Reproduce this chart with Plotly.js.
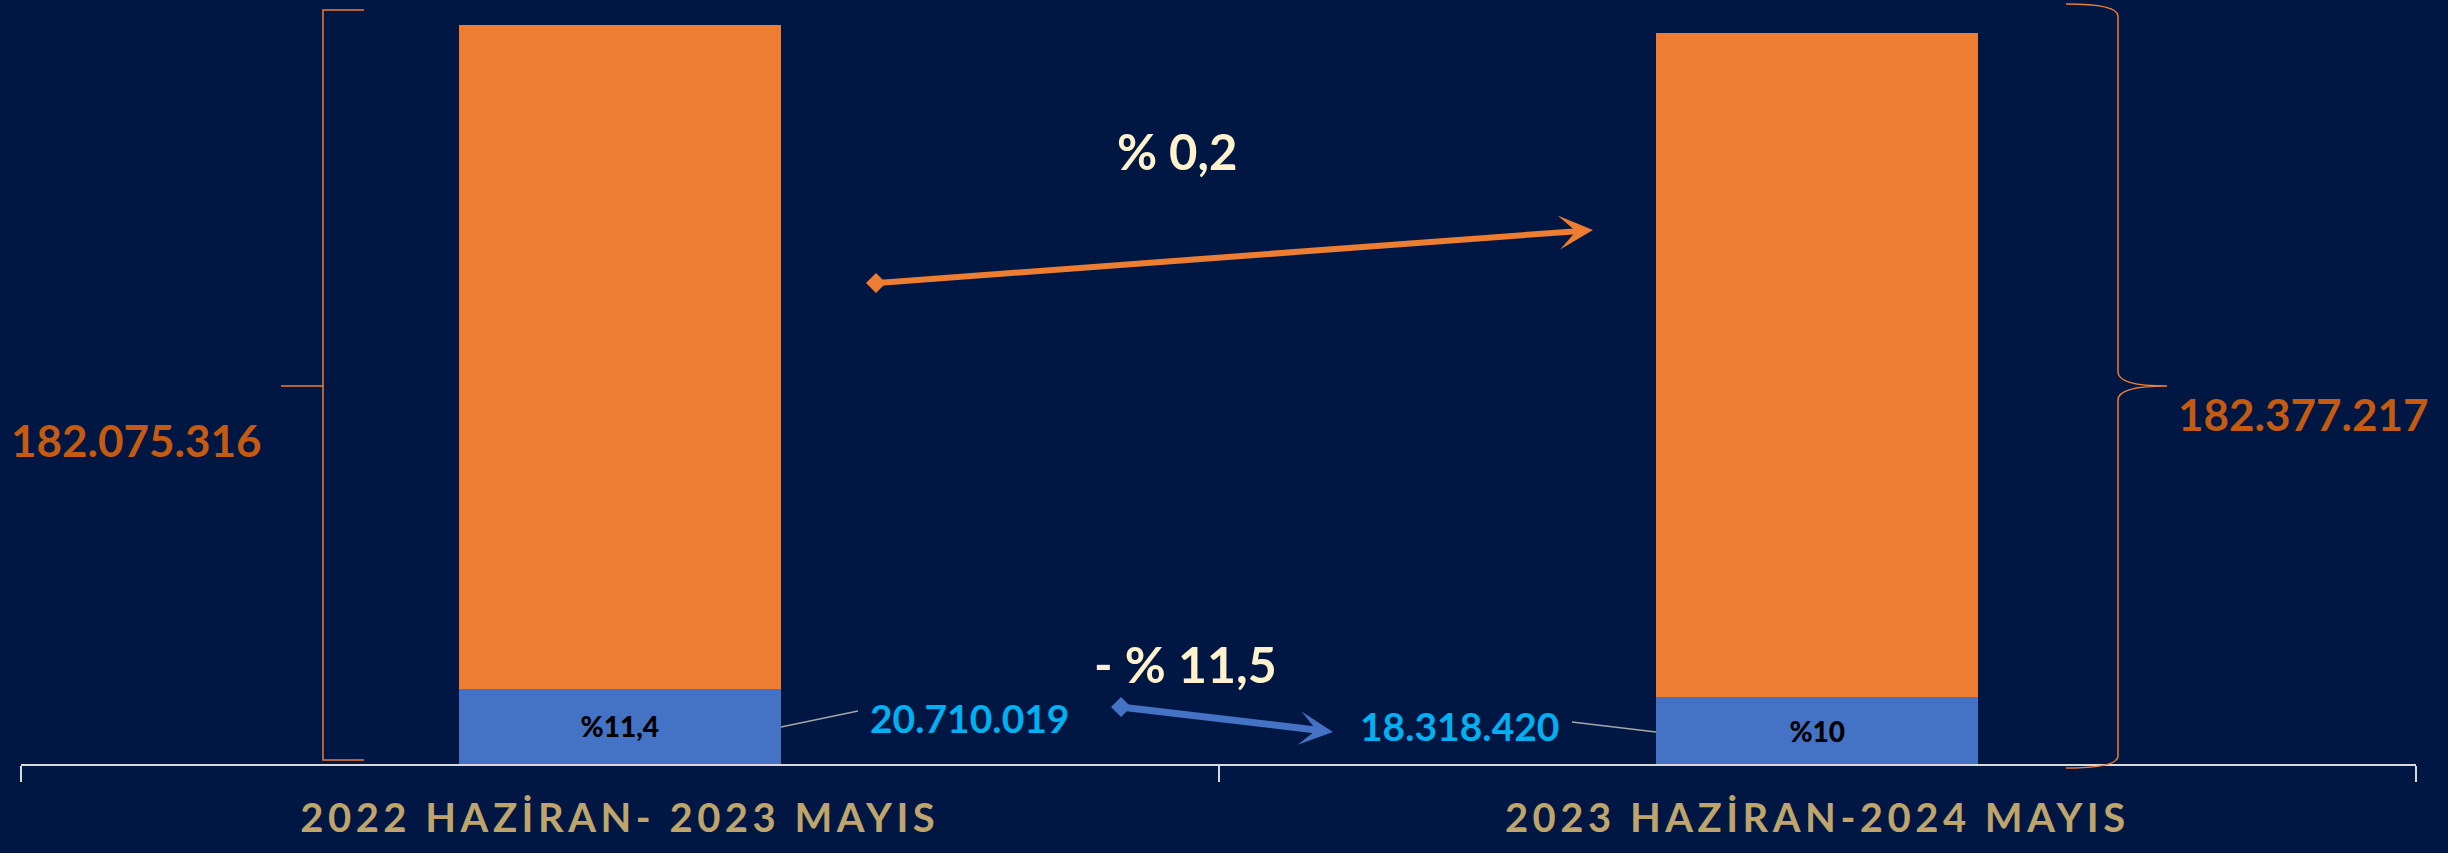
<!DOCTYPE html>
<html>
<head>
<meta charset="utf-8">
<script src="https://cdn.plot.ly/plotly-3.0.1.min.js"></script>
<style>
html,body{margin:0;padding:0;background:#001744;}
#chart{width:2448px;height:853px;}
.xtick text{letter-spacing:4.5px;}
</style>
</head>
<body>
<div id="chart"></div>
<script>
// ---- data ----
const categories = ["2022 HAZİRAN- 2023 MAYIS", "2023 HAZİRAN-2024 MAYIS"];
const blueValues = [20710019, 18318420];
const orangeValues = [182075316, 182377217];
const blueShareLabels = ["%11,4", "%10"];
const blueValueLabels = ["20.710.019", "18.318.420"];
const orangeValueLabels = ["182.075.316", "182.377.217"];
const changeLabels = ["% 0,2", "- % 11,5"];

const FONT = "Lato, 'Open Sans', 'Noto Sans', sans-serif";
const BG = "#001744";
const ORANGE = "#ED7D31";
const BLUE = "#4472C4";
const DARKORANGE = "#C55A11";
const CYAN = "#00B0F0";
const CREAM = "#FFF2CC";
const TAN = "#BFA56B";

// pixel -> paper helpers (plot area: x 21..2416, y 0..764)
const L = 21, R = 2416, T = 0, B = 764;
const px = v => (v - L) / (R - L);
const py = v => (B - v) / (B - T);

const traces = [
  {
    type: "bar", x: categories, y: blueValues,
    marker: {color: BLUE, line: {width: 0}},
    text: blueShareLabels, textposition: "inside", insidetextanchor: "middle",
    textangle: 0, constraintext: "none",
    textfont: {family: FONT, size: 28, color: "#000000", weight: 900},
    hoverinfo: "none"
  },
  {
    type: "bar", x: categories, y: orangeValues,
    marker: {color: ORANGE, line: {width: 0}},
    hoverinfo: "none"
  }
];

function txt(label, x, y, size, color) {
  return {xref: "paper", yref: "paper", x: px(x), y: py(y), text: label,
    showarrow: false, xanchor: "center", yanchor: "middle",
    font: {family: FONT, size: size, color: color, weight: 700}};
}

function arrow(tail, head, color, width, size) {
  return {xref: "paper", yref: "paper", x: px(head[0]), y: py(head[1]),
    axref: "pixel", ayref: "pixel", ax: tail[0] - head[0], ay: tail[1] - head[1],
    text: "", showarrow: true, arrowhead: 3, arrowsize: size, arrowwidth: width,
    arrowcolor: color, standoff: 0, startstandoff: 0};
}

const annotations = [
  txt(changeLabels[0], 1177, 151, 49, CREAM),
  txt(changeLabels[1], 1185, 664, 50, CREAM),
  txt(blueValueLabels[0], 970, 718, 39, CYAN),
  txt(blueValueLabels[1], 1460, 726, 39, CYAN),
  txt(orangeValueLabels[0], 136, 440, 44, DARKORANGE),
  txt(orangeValueLabels[1], 2303, 414, 44, DARKORANGE),
  arrow([876, 283], [1593, 230], ORANGE, 6, 0.95),
  arrow([1121, 707], [1333, 732], BLUE, 7, 0.8)
];

function diamond(x, y, color, r) {
  return {type: "path", xref: "paper", yref: "paper",
    xsizemode: "pixel", ysizemode: "pixel", xanchor: px(x), yanchor: py(y),
    path: `M ${-r},0 L 0,${r} L ${r},0 L 0,${-r} Z`,
    fillcolor: color, line: {width: 0}};
}

const shapes = [
  // left square bracket
  {type: "path", xref: "paper", yref: "paper",
   path: `M ${px(364)},${py(10)} L ${px(323)},${py(10)} L ${px(323)},${py(760)} L ${px(364)},${py(760)} M ${px(323)},${py(386)} L ${px(281)},${py(386)}`,
   line: {color: ORANGE, width: 1.5}},
  // right curly brace
  {type: "path", xref: "paper", yref: "paper",
   path: `M ${px(2066)},${py(4)} Q ${px(2118)},${py(4)} ${px(2118)},${py(16)} L ${px(2118)},${py(372)} Q ${px(2118)},${py(386)} ${px(2167)},${py(386)} Q ${px(2118)},${py(386)} ${px(2118)},${py(400)} L ${px(2118)},${py(756)} Q ${px(2118)},${py(768)} ${px(2066)},${py(768)}`,
   line: {color: ORANGE, width: 1.5}},
  // leader lines
  {type: "line", xref: "paper", yref: "paper", x0: px(781), y0: py(727), x1: px(858), y1: py(711),
   line: {color: "#A6A6A6", width: 1.5}},
  {type: "line", xref: "paper", yref: "paper", x0: px(1572), y0: py(722), x1: px(1656), y1: py(732),
   line: {color: "#A6A6A6", width: 1.5}},
  diamond(876, 283, ORANGE, 10),
  diamond(1121, 707, BLUE, 10)
];

const layout = {
  width: 2448, height: 853,
  margin: {l: L, r: 2448 - R, t: T, b: 853 - B, pad: 0},
  paper_bgcolor: BG, plot_bgcolor: BG,
  barmode: "stack", bargap: 0.731,
  showlegend: false,
  xaxis: {
    type: "category", showline: true, linecolor: "#D9D9D9", linewidth: 2,
    ticks: "outside", tickson: "boundaries", ticklen: 16, tickwidth: 2, tickcolor: "#D9D9D9",
    showgrid: false, zeroline: false, fixedrange: true,
    tickfont: {family: FONT, size: 40, color: TAN, weight: 700},
    ticklabelstandoff: 18
  },
  yaxis: {visible: false, range: [0, 209.65e6], fixedrange: true},
  annotations: annotations,
  shapes: shapes,
  hovermode: false
};

Plotly.newPlot("chart", traces, layout, {displayModeBar: false, staticPlot: true});
</script>
</body>
</html>
